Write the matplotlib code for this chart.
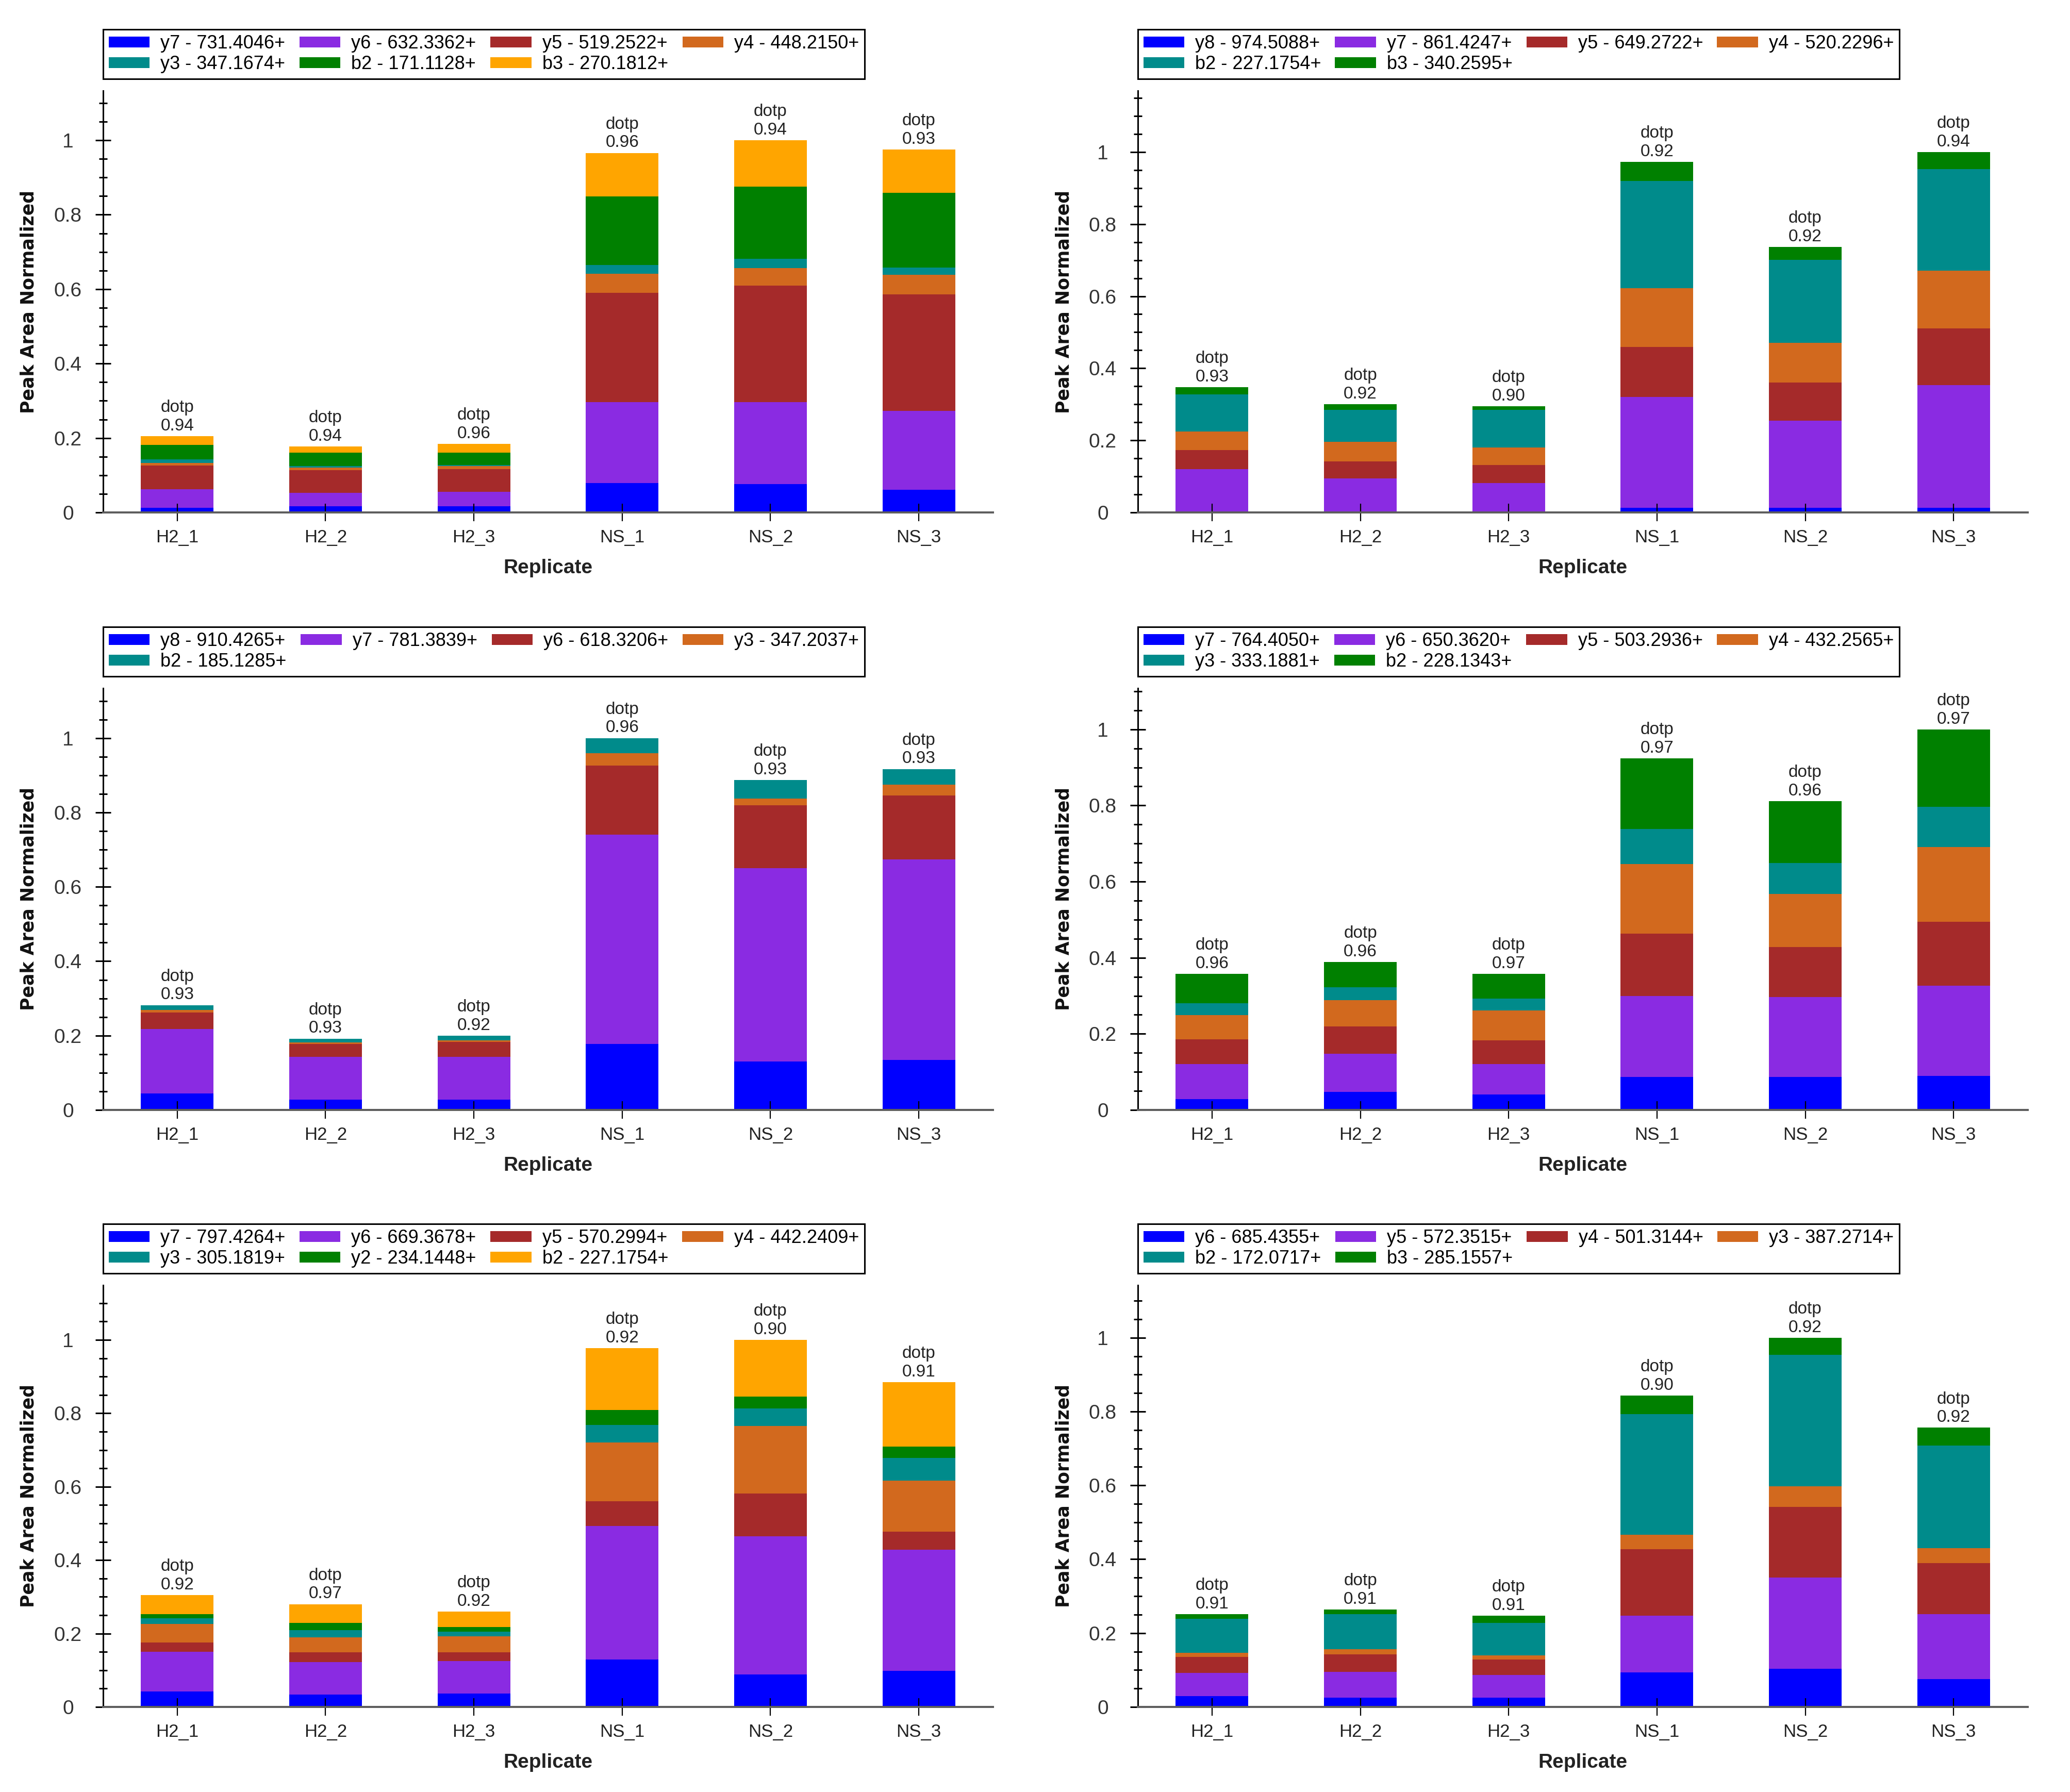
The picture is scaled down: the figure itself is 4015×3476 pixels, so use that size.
import matplotlib
matplotlib.use("Agg")
import matplotlib.pyplot as plt
import numpy as np
from matplotlib.ticker import MultipleLocator, FuncFormatter

plt.rcParams["font.family"] = ["Liberation Sans", "DejaVu Sans"]

replicates = ["H2_1", "H2_2", "H2_3", "NS_1", "NS_2", "NS_3"]
colors = ["#0000FF", "#8A2BE2", "#A52A2A", "#D2691E", "#008B8B", "#008000", "#FFA500"]

# panel A (top left)
labels_a = ["y7 - 731.4046+", "y6 - 632.3362+", "y5 - 519.2522+", "y4 - 448.2150+",
            "y3 - 347.1674+", "b2 - 171.1128+", "b3 - 270.1812+"]
values_a = [[0.013, 0.016, 0.016, 0.079, 0.076, 0.061],
            [0.049, 0.037, 0.040, 0.218, 0.221, 0.212],
            [0.064, 0.060, 0.061, 0.293, 0.312, 0.313],
            [0.007, 0.008, 0.007, 0.051, 0.048, 0.052],
            [0.009, 0.004, 0.004, 0.024, 0.024, 0.020],
            [0.039, 0.035, 0.032, 0.184, 0.195, 0.201],
            [0.024, 0.017, 0.024, 0.117, 0.124, 0.116]]
dotp_a = [0.94, 0.94, 0.96, 0.96, 0.94, 0.93]

# panel B (top right)
labels_b = ["y8 - 974.5088+", "y7 - 861.4247+", "y5 - 649.2722+", "y4 - 520.2296+",
            "b2 - 227.1754+", "b3 - 340.2595+"]
values_b = [[0.002, 0.002, 0.002, 0.013, 0.013, 0.013],
            [0.118, 0.093, 0.080, 0.307, 0.241, 0.340],
            [0.053, 0.046, 0.049, 0.139, 0.106, 0.158],
            [0.052, 0.055, 0.049, 0.163, 0.111, 0.160],
            [0.103, 0.088, 0.104, 0.298, 0.230, 0.282],
            [0.020, 0.016, 0.011, 0.053, 0.035, 0.047]]
dotp_b = [0.93, 0.92, 0.90, 0.92, 0.92, 0.94]

# panel C (middle left)
labels_c = ["y8 - 910.4265+", "y7 - 781.3839+", "y6 - 618.3206+", "y3 - 347.2037+",
            "b2 - 185.1285+"]
values_c = [[0.044, 0.028, 0.028, 0.178, 0.131, 0.135],
            [0.174, 0.115, 0.115, 0.562, 0.519, 0.539],
            [0.044, 0.035, 0.040, 0.186, 0.170, 0.172],
            [0.007, 0.003, 0.004, 0.033, 0.017, 0.029],
            [0.013, 0.011, 0.012, 0.041, 0.050, 0.042]]
dotp_c = [0.93, 0.93, 0.92, 0.96, 0.93, 0.93]

# panel D (middle right)
labels_d = ["y7 - 764.4050+", "y6 - 650.3620+", "y5 - 503.2936+", "y4 - 432.2565+",
            "y3 - 333.1881+", "b2 - 228.1343+"]
values_d = [[0.029, 0.047, 0.040, 0.087, 0.087, 0.090],
            [0.092, 0.101, 0.081, 0.213, 0.209, 0.236],
            [0.065, 0.071, 0.062, 0.163, 0.132, 0.168],
            [0.063, 0.069, 0.078, 0.183, 0.139, 0.197],
            [0.031, 0.034, 0.031, 0.092, 0.082, 0.105],
            [0.078, 0.067, 0.066, 0.186, 0.162, 0.204]]
dotp_d = [0.96, 0.96, 0.97, 0.97, 0.96, 0.97]

# panel E (bottom left)
labels_e = ["y7 - 797.4264+", "y6 - 669.3678+", "y5 - 570.2994+", "y4 - 442.2409+",
            "y3 - 305.1819+", "y2 - 234.1448+", "b2 - 227.1754+"]
values_e = [[0.042, 0.034, 0.036, 0.129, 0.089, 0.098],
            [0.108, 0.088, 0.089, 0.364, 0.376, 0.331],
            [0.026, 0.027, 0.024, 0.068, 0.117, 0.049],
            [0.050, 0.041, 0.044, 0.160, 0.183, 0.139],
            [0.015, 0.019, 0.012, 0.048, 0.048, 0.061],
            [0.012, 0.020, 0.013, 0.040, 0.032, 0.031],
            [0.052, 0.051, 0.042, 0.168, 0.155, 0.176]]
dotp_e = [0.92, 0.97, 0.92, 0.92, 0.90, 0.91]

# panel F (bottom right)
labels_f = ["y6 - 685.4355+", "y5 - 572.3515+", "y4 - 501.3144+", "y3 - 387.2714+",
            "b2 - 172.0717+", "b3 - 285.1557+"]
values_f = [[0.029, 0.025, 0.025, 0.093, 0.103, 0.076],
            [0.063, 0.070, 0.062, 0.154, 0.247, 0.175],
            [0.044, 0.047, 0.041, 0.180, 0.191, 0.139],
            [0.010, 0.014, 0.012, 0.039, 0.056, 0.040],
            [0.093, 0.095, 0.087, 0.327, 0.357, 0.278],
            [0.012, 0.013, 0.020, 0.050, 0.046, 0.048]]
dotp_f = [0.91, 0.91, 0.91, 0.90, 0.92, 0.92]

panels = [(labels_a, values_a, dotp_a, 1.133),
          (labels_b, values_b, dotp_b, 1.17),
          (labels_c, values_c, dotp_c, 1.134),
          (labels_d, values_d, dotp_d, 1.108),
          (labels_e, values_e, dotp_e, 1.149),
          (labels_f, values_f, dotp_f, 1.142)]

W, H = 4016, 3476
lefts = [200, 2207]
bottoms = [994, 2153, 3311]
ax_w, ax_h = 1726, 818


def draw_panel(ax, labels, values, dotp, ymax):
    x = np.arange(len(replicates))
    bottom = np.zeros(len(replicates))
    handles = []
    for i, (lab, vals) in enumerate(zip(labels, values)):
        h = ax.bar(x, vals, 0.49, bottom=bottom, color=colors[i], linewidth=0, label=lab)
        handles.append(h)
        bottom += np.array(vals)
    for xi, top, d in zip(x, bottom, dotp):
        ax.annotate("dotp\n%.2f" % d, (xi, top), xytext=(0, 3), textcoords="offset points",
                    ha="center", va="bottom", fontsize=24, color="#222222", linespacing=1.2)

    ax.set_xlim(-0.5, 5.5)
    ax.set_ylim(0, ymax)
    ax.set_xticks(x)
    ax.set_xticklabels(replicates)
    ax.yaxis.set_major_locator(MultipleLocator(0.2))
    ax.yaxis.set_minor_locator(MultipleLocator(0.05))
    ax.yaxis.set_major_formatter(FuncFormatter(lambda v, p: "%g" % round(v, 2)))

    for s in ["top", "right"]:
        ax.spines[s].set_visible(False)
    ax.spines["left"].set_linewidth(2.2)
    ax.spines["left"].set_color("black")
    ax.spines["bottom"].set_linewidth(2.9)
    ax.spines["bottom"].set_color("#5e5e5e")

    ax.tick_params(axis="y", which="major", direction="inout", length=22, width=2.2,
                   pad=38, labelsize=28, labelcolor="#333333")
    ax.tick_params(axis="y", which="minor", direction="inout", length=11, width=2.2)
    ax.tick_params(axis="x", which="major", direction="inout", length=24, width=1.6,
                   pad=11, labelsize=25, labelcolor="#222222")
    plt.setp(ax.get_yticklabels(), ha="center")

    ax.text(0.5, -108 / ax_h, "Replicate", transform=ax.transAxes, ha="center", va="center",
            fontsize=28, fontweight="bold", color="#222222")
    ax.text(-144 / ax_w, 0.5, "Peak Area Normalized", transform=ax.transAxes, rotation=90,
            ha="center", va="center", fontsize=25, fontweight="bold", family="DejaVu Sans",
            color="#111111")

    n = len(labels)
    order = [i for c in range(4) for i in range(c, n, 4)]
    leg = ax.legend([handles[i] for i in order], [labels[i] for i in order], ncol=4,
                    loc="lower left", bbox_to_anchor=(0, 1 + 23 / ax_h, 1477 / ax_w, 0.1),
                    mode="expand", borderaxespad=0, fontsize=26, handlelength=2.2,
                    handleheight=0.53, handletextpad=0.58, labelspacing=0.13,
                    borderpad=0.3, fancybox=False, framealpha=1, edgecolor="black")
    leg.get_frame().set_linewidth(2.2)


fig = plt.figure(figsize=(W / 100, H / 100), dpi=100)
for k, (labels, values, dotp, ymax) in enumerate(panels):
    row, col = divmod(k, 2)
    ax = fig.add_axes([lefts[col] / W, 1 - bottoms[row] / H, ax_w / W, ax_h / H])
    draw_panel(ax, labels, values, dotp, ymax)

fig.savefig("out.png", dpi=100, facecolor="white")
